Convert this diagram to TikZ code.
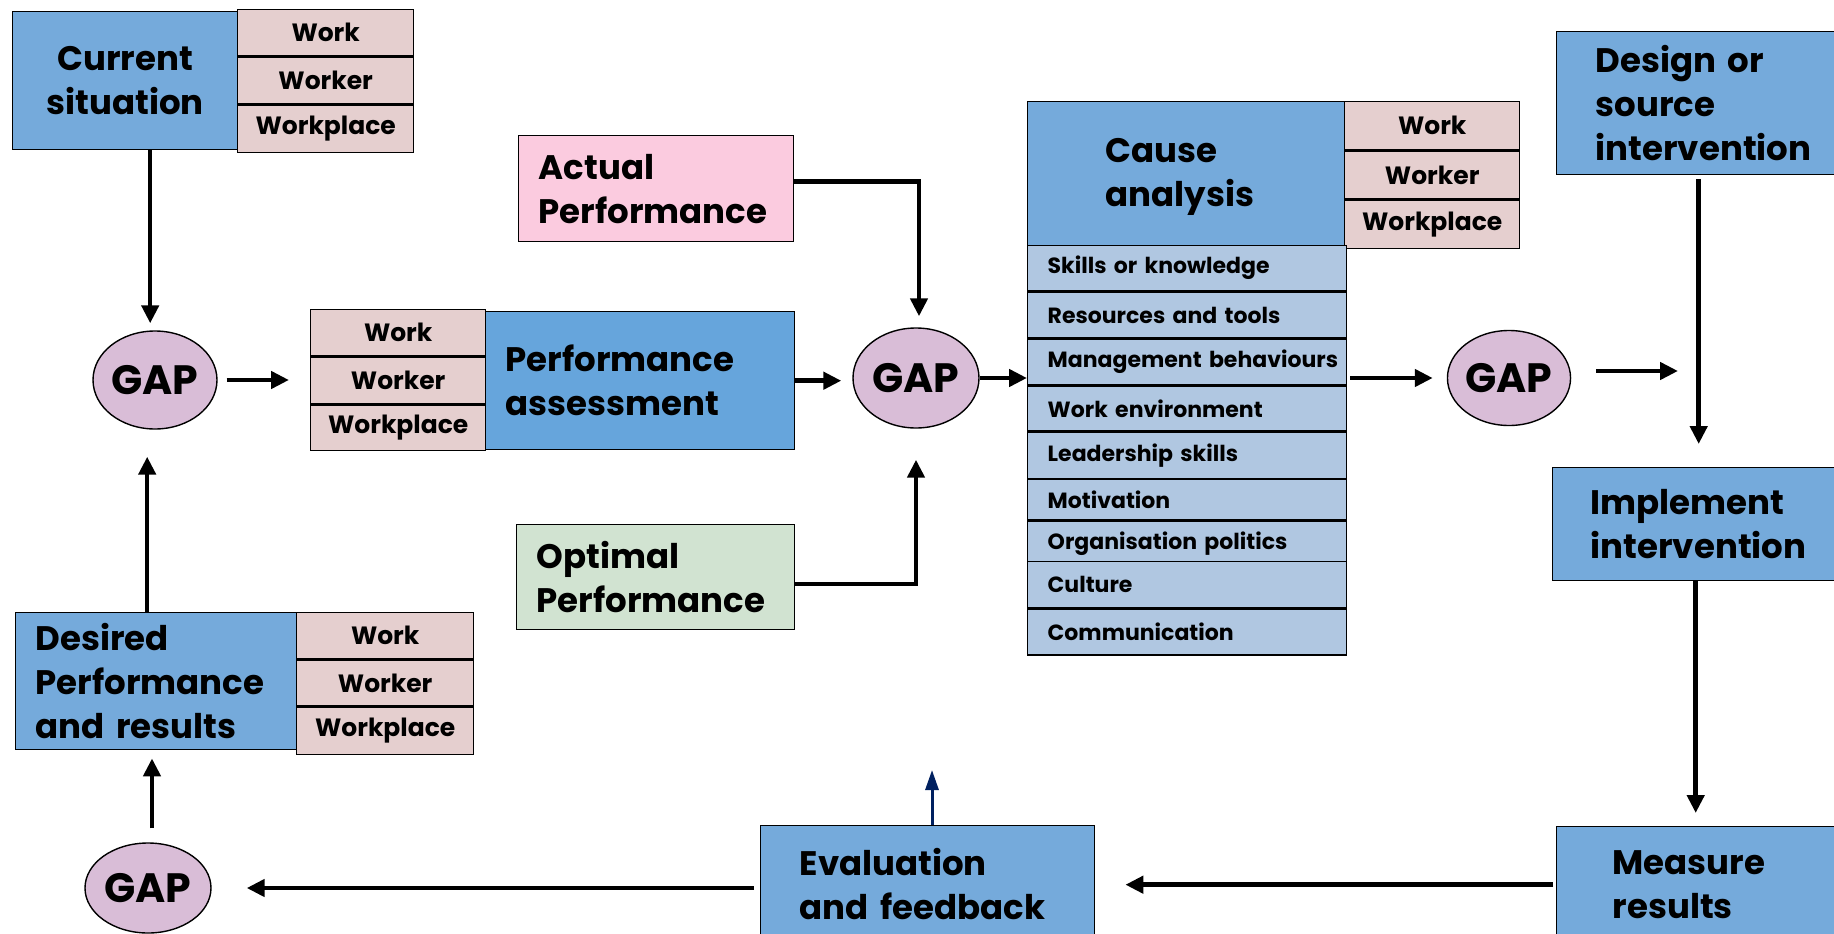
\documentclass[tikz,border=0pt]{standalone}
\usepackage{fontspec}
\setmainfont{Poppins}
\usetikzlibrary{shapes.geometric,arrows.meta}
\hyphenpenalty=10000
\exhyphenpenalty=10000

\definecolor{boxblue}{HTML}{75AADB}
\definecolor{assessblue}{HTML}{66A5DC}
\definecolor{tagpink}{HTML}{E5CFCF}
\definecolor{causeblue}{HTML}{B0C7E1}
\definecolor{gapmauve}{HTML}{D9BDD7}
\definecolor{actualpink}{HTML}{FBCBDF}
\definecolor{optimalgreen}{HTML}{D1E3D1}
\definecolor{navyline}{HTML}{002060}

\begin{document}
\begin{tikzpicture}[x=1pt,y=-1pt,
  box/.style={draw=black, line width=1.4pt, inner ysep=0pt, anchor=north west, align=left,
              font=\fontsize{34}{44}\selectfont\bfseries},
  bluebox/.style={box, fill=boxblue},
  tag/.style={draw=black, line width=1.4pt, inner sep=0pt, anchor=north west, fill=tagpink,
              font=\fontsize{25}{30}\selectfont\bfseries},
  cause/.style={draw=black, line width=1.4pt, inner ysep=0pt, inner xsep=20pt, anchor=north west,
              fill=causeblue, align=left, text width=279pt, minimum width=319pt,
              font=\fontsize{22}{27}\selectfont\bfseries},
  gap/.style={ellipse, draw=black, line width=1.4pt, fill=gapmauve, inner sep=0pt,
              font=\fontsize{41}{48}\selectfont\bfseries},
  arr/.style={line width=4.5pt, -{Triangle[width=17pt,length=18pt]}},
  fbarr/.style={line width=3pt, navyline, -{Triangle[width=13pt,length=20pt]}},
]
\path[use as bounding box, fill=white] (0,0) rectangle (1834,934);
\clip (0,0) rectangle (1834,934);

% ---- current situation
\node[bluebox, align=center, minimum width=225pt, minimum height=138pt] (cur) at (12,11) {Current\\situation};
\node[tag, minimum width=176pt, minimum height=46pt] (curA) at (237,9) {Work};
\node[tag, minimum width=176pt, minimum height=47pt] (curB) at (curA.south west) {Worker};
\node[tag, minimum width=176pt, minimum height=47pt] (curC) at (curB.south west) {Workplace};

% ---- performance assessment
\node[tag, minimum width=175pt, minimum height=46pt] (perA) at (310,309) {Work};
\node[tag, minimum width=175pt, minimum height=47pt] (perB) at (perA.south west) {Worker};
\node[tag, minimum width=175pt, minimum height=45pt] (perC) at (perB.south west) {Workplace};
\node[box, fill=assessblue, inner xsep=20pt, text width=269pt, minimum height=138pt] (perf) at (485,311) {Performance\\assessment};

% ---- actual / optimal performance
\node[box, fill=actualpink, inner xsep=20pt, text width=235pt, minimum height=106pt] (act) at (518,135) {Actual\\Performance};
\node[box, fill=optimalgreen, inner xsep=20pt, text width=238pt, minimum height=105pt] (opt) at (516,524) {Optimal\\Performance};

% ---- desired performance
\node[bluebox, inner xsep=20pt, text width=241pt, minimum height=137pt] (des) at (15,612) {Desired\\Performance\\and~results};
\node[tag, minimum width=177pt, minimum height=46pt] (desA) at (296,612) {Work};
\node[tag, minimum width=177pt, minimum height=46pt] (desB) at (desA.south west) {Worker};
\node[tag, minimum width=177pt, minimum height=47pt] (desC) at (desB.south west) {Workplace};

% ---- cause analysis
\node[bluebox, inner xsep=78pt, text width=161pt, minimum height=150pt] (cau) at (1027,101) {Cause\\analysis};
\node[tag, minimum width=175pt, minimum height=48pt] (cauA) at (1344,101) {Work};
\node[tag, minimum width=175pt, minimum height=48pt] (cauB) at (cauA.south west) {Worker};
\node[tag, minimum width=175pt, minimum height=48pt] (cauC) at (cauB.south west) {Workplace};

\node[cause, minimum height=45pt] (c1) at (1027,245) {Skills~or~knowledge};
\node[cause, minimum height=46pt] (c2) at (c1.south west) {Resources~and~tools};
\node[cause, minimum height=45pt] (c3) at (c2.south west) {Management~behaviours};
\node[cause, minimum height=45pt] (c4) at (c3.south west) {Work~environment};
\node[cause, minimum height=46pt] (c5) at (c4.south west) {Leadership~skills};
\node[cause, minimum height=40pt] (c6) at (c5.south west) {Motivation};
\node[cause, minimum height=46pt] (c7) at (c6.south west) {Organisation~politics};
\node[cause, minimum height=46pt] (c8) at (1027,561) {Culture};
\node[cause, minimum height=46pt] (c9) at (c8.south west) {Communication};

% ---- intervention column
\node[bluebox, inner xsep=39pt, text width=242pt, minimum height=143pt] (dsg) at (1556,31) {Design~or\\source\\intervention};
\node[bluebox, inner xsep=38pt, text width=244pt, minimum height=113pt] (imp) at (1552,467) {Implement\\intervention};
\node[bluebox, inner xsep=56pt, text width=208pt, minimum height=116pt] (meas) at (1556,826) {Measure\\results};
\node[bluebox, inner xsep=39pt, text width=256pt, minimum height=116pt] (eval) at (760,825) {Evaluation\\and~feedback};

% ---- gaps
\node[gap, minimum width=124pt, minimum height=98pt] (gap1) at (155,380) {GAP};
\node[gap, minimum width=126pt, minimum height=100pt] (gap2) at (916,378) {GAP};
\node[gap, minimum width=123pt, minimum height=95pt] (gap3) at (1509,378) {GAP};
\node[gap, minimum width=126pt, minimum height=90pt] (gap4) at (148,888) {GAP};

\coordinate (g3end) at (1678,371);
\coordinate (fbend) at (932,770);

% ---- connectors
\draw[arr, shorten >=7pt] ([xshift=25pt]cur.south) -- ([xshift=25pt]cur.south |- gap1.north);
\draw[arr, shorten <=9pt, shorten >=21pt] (gap1.east) -- (gap1.east -| perB.west);
\draw[arr, shorten >=27pt] ([xshift=-9pt]des.north) -- ([xshift=-9pt]des.north |- gap1.south);
\draw[arr, shorten <=14pt, shorten >=8pt] ([xshift=4pt]gap4.north) -- ([xshift=4pt]gap4.north |- des.south);
\draw[arr, shorten >=11pt] ([yshift=7pt]act.east) -| ([xshift=3pt]gap2.north);
\draw[arr, shorten >=31pt] ([yshift=-7pt]opt.east) -| (gap2.south);
\draw[arr, shorten >=11pt] (perf.east) -- (perf.east -| gap2.west);
\draw[arr] (gap2.east) -- (gap2.east -| c3.west);
\draw[arr, shorten <=3pt, shorten >=14pt] (gap3.west -| c3.east) -- (gap3.west);
\draw[arr, shorten <=25pt] (gap3.east |- g3end) -- (g3end);
\draw[arr, shorten <=4pt, shorten >=23pt] ([xshift=-18pt]dsg.south) -- ([xshift=-18pt]dsg.south |- imp.north);
\draw[arr, shorten >=13pt] ([xshift=-17pt]imp.south) -- ([xshift=-17pt]imp.south |- meas.north);
\draw[arr, shorten <=3pt, shorten >=30pt] (meas.west) -- (meas.west -| eval.east);
\draw[arr, shorten <=6pt, shorten >=35pt] (eval.west |- gap4.east) -- (gap4.east);
\draw[fbarr] (eval.north -| fbend) -- (fbend);
\end{tikzpicture}
\end{document}
